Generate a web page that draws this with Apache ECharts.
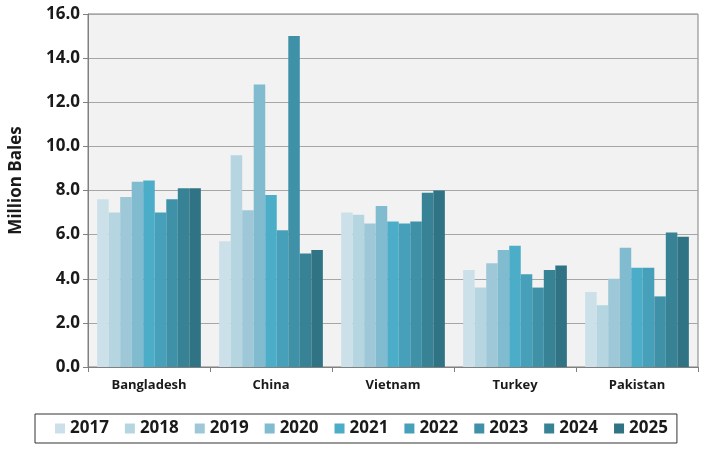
<!DOCTYPE html>
<html>
<head>
<meta charset="utf-8">
<style>
html,body{
    margin:0;
    padding:0;
    background:#fff;
}
#chart{
    width:714px;
    height:452px;
}
</style>
<script src="https://cdn.jsdelivr.net/npm/echarts@6/dist/echarts.min.js"></script>
</head>
<body>
<div id="chart"></div>
<script type="text/javascript">
    var countries = ['Bangladesh', 'China', 'Vietnam', 'Turkey', 'Pakistan'];
    var years = ['2017', '2018', '2019', '2020', '2021', '2022', '2023', '2024', '2025'];
    // values per year, in the order of countries
    var v2017 = [7.6, 5.7, 7.0, 4.4, 3.4];
    var v2018 = [7.0, 9.6, 6.9, 3.6, 2.8];
    var v2019 = [7.7, 7.1, 6.5, 4.7, 4.0];
    var v2020 = [8.4, 12.8, 7.3, 5.3, 5.4];
    var v2021 = [8.45, 7.8, 6.6, 5.5, 4.5];
    var v2022 = [7.0, 6.2, 6.5, 4.2, 4.5];
    var v2023 = [7.6, 15.0, 6.6, 3.6, 3.2];
    var v2024 = [8.1, 5.15, 7.9, 4.4, 6.1];
    var v2025 = [8.1, 5.3, 8.0, 4.6, 5.9];
    var yTicks = [0, 16, 2];

    var values = [v2017, v2018, v2019, v2020, v2021, v2022, v2023, v2024, v2025];
    var colors = ['#cce0e9', '#b5d6e0', '#9ec8d8', '#80bbcf', '#4badc8', '#47a0b9', '#3f91a7', '#378395', '#2f7384'];
    var font = '"Open Sans", "Liberation Sans", sans-serif';

    var series = [];
    for (var i = 0; i < years.length; i++) {
        series.push({
            name: years[i],
            type: 'bar',
            barGap: '0%',
            barCategoryGap: '15%',
            data: values[i]
        });
    }

    var myChart = echarts.init(document.getElementById('chart'));
    var option = {
        animation: false,
        color: colors,
        grid: {
            left: 87,
            right: 16,
            top: 14,
            bottom: 85,
            show: true,
            backgroundColor: '#f2f2f2',
            borderColor: '#808080',
            borderWidth: 1
        },
        legend: {
            data: years,
            left: 35,
            top: 414,
            itemWidth: 10,
            itemHeight: 10,
            itemGap: 16,
            padding: [6, 9, 6, 20],
            borderColor: '#333',
            borderWidth: 1,
            icon: 'rect',
            textStyle: {
                fontFamily: font,
                fontWeight: 'bold',
                fontSize: 17,
                color: '#1a1a1a'
            }
        },
        xAxis: {
            type: 'category',
            data: countries,
            axisLine: {lineStyle: {color: '#808080'}},
            axisTick: {show: true, length: 5, lineStyle: {color: '#808080'}},
            axisLabel: {
                margin: 12,
                fontFamily: font,
                fontWeight: 'bold',
                fontSize: 13,
                color: '#1a1a1a'
            }
        },
        yAxis: {
            type: 'value',
            min: yTicks[0],
            max: yTicks[1],
            interval: yTicks[2],
            name: 'Million Bales',
            nameLocation: 'middle',
            nameGap: 63,
            nameTextStyle: {
                fontFamily: font,
                fontWeight: 'bold',
                fontSize: 17,
                color: '#1a1a1a',
                padding: [0, 0, 0, 20]
            },
            axisLine: {show: true, lineStyle: {color: '#808080'}},
            axisTick: {show: true, length: 5, lineStyle: {color: '#808080'}},
            splitLine: {lineStyle: {color: '#a6a6a6', width: 1}},
            axisLabel: {
                margin: 8,
                fontFamily: font,
                fontWeight: 'bold',
                fontSize: 17,
                color: '#1a1a1a',
                formatter: function (v) { return v.toFixed(1); }
            }
        },
        series: series
    };
    myChart.setOption(option);
</script>
</body>
</html>
